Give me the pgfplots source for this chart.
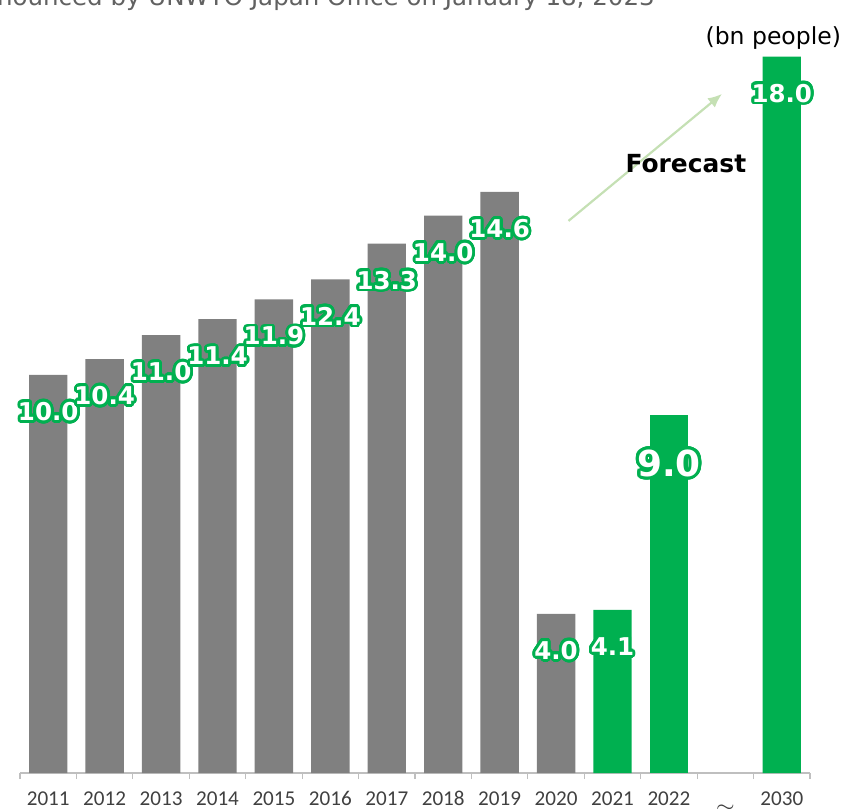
\documentclass[border=0pt]{standalone}
\usepackage{pgfplots}
\pgfplotsset{compat=1.18}
\usetikzlibrary{arrows.meta}
\usepackage{fontspec}
\setmainfont{DejaVu Sans}
\newfontfamily\calfont{Carlito}
\usepackage[copies]{contour}
\contourlength{1.4pt}
\contournumber{32}

\definecolor{bargray}{HTML}{808080}
\definecolor{bargreen}{HTML}{00B050}
\definecolor{arrowgreen}{HTML}{C5E0B4}
\definecolor{axisgray}{HTML}{BFBFBF}
\definecolor{labgray}{HTML}{404040}

\begin{document}
\begin{tikzpicture}
  % picture is 852x809 px at 0.5bp per px; axis box starts 20px in, 36px up
  \useasboundingbox (-10bp,-18bp) rectangle (416bp,386.5bp);
  \begin{axis}[
      scale only axis,
      width=395bp, height=386.5bp,
      xmin=-0.5, xmax=13.5, ymin=0, ymax=19.42,
      axis x line=bottom, axis y line=none,
      axis line style={axisgray, line width=0.6pt, -},
      ybar, bar width=0.68,
      xtick={0,...,13},
      xticklabels={2011,2012,2013,2014,2015,2016,2017,2018,2019,2020,2021,2022,,2030},
      major tick length=0pt,
      minor xtick={-0.5,0.5,...,13.5},
      minor tick length=3bp,
      tick align=outside,
      minor tick style={axisgray, line width=0.6pt},
      xticklabel style={font=\calfont\fontsize{10.6}{11}\selectfont, text=labgray,
        anchor=base, text height=7bp, text depth=0pt},
      every x tick label/.append style={yshift=-16bp},
      point meta=explicit symbolic,
      nodes near coords={\contour{bargreen}{\protect\pgfplotspointmeta}},
      every node near coord/.append style={anchor=center, yshift=-19bp, text=white,
        font=\bfseries\fontsize{12.3}{13}\selectfont},
      clip=false,
    ]
    \addplot[fill=bargray, draw=none, bar shift=0pt] coordinates {
      (0,10.0) [10.0] (1,10.4) [10.4] (2,11.0) [11.0] (3,11.4) [11.4]
      (4,11.9) [11.9] (5,12.4) [12.4] (6,13.3) [13.3] (7,14.0) [14.0]
      (8,14.6) [14.6] (9,4.0) [4.0]
    };
    \addplot[fill=bargreen, draw=none, bar shift=0pt] coordinates {
      (10,4.1) [4.1] (13,18.0) [18.0]
    };
    \addplot[fill=bargreen, draw=none, bar shift=0pt,
      every node near coord/.append style={yshift=-6bp, font=\bfseries\fontsize{18}{19}\selectfont}]
      coordinates { (11,9.0) [9.0] };

    \draw[arrowgreen, line width=1.1pt, -{Latex[length=7bp,width=6bp]}]
      (axis cs:9.22,13.87) -- (axis cs:11.94,17.06);
    \node[font=\bfseries\fontsize{12.5}{13}\selectfont] at (axis cs:11.3,15.3) {Forecast};
    \node[font=\fontsize{13}{13}\selectfont, text=labgray] at (axis cs:12,-0.95) {$\approx$};
  \end{axis}
  \node[anchor=east, font=\fontsize{11.8}{12}\selectfont] at (414bp,367.5bp) {(bn people)};
  \node[anchor=base east, inner sep=0pt, text=black!62, font=\fontsize{12.3}{13}\selectfont]
    at (317.5bp,383.5bp) {Announced by UNWTO Japan Office on January 18, 2023};
\end{tikzpicture}
\end{document}
